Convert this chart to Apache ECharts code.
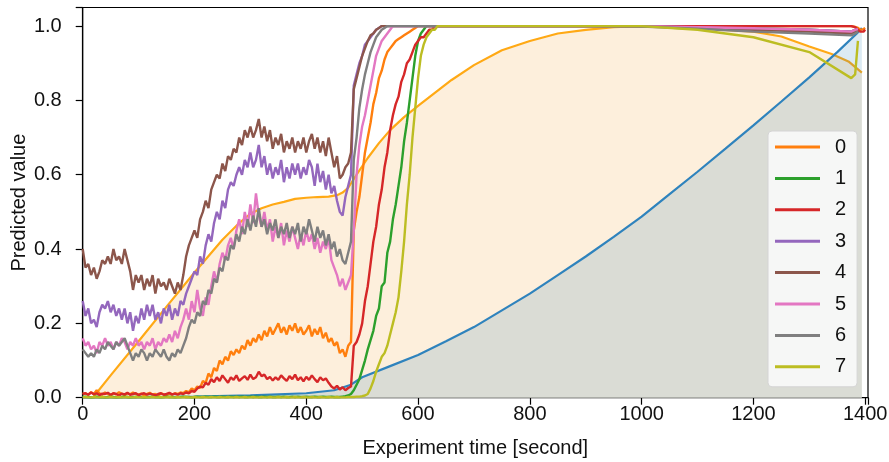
<!DOCTYPE html>
<html>
<head>
<meta charset="utf-8">
<script src="https://cdn.jsdelivr.net/npm/echarts@6/dist/echarts.min.js"></script>
<style>html,body{margin:0;padding:0;background:#fff}#c{width:889px;height:462px}</style>
</head>
<body>
<div id="c"></div>
<script>
// sample times (seconds) for the noisy prediction series
const T = [0,5,10,15,20,25,30,35,40,45,50,55,60,65,70,75,80,85,90,95,
100,105,110,115,120,125,130,135,140,145,150,155,160,165,170,175,180,185,190,195,
200,205,210,215,220,225,230,235,240,245,250,255,260,265,270,275,280,285,290,295,
300,305,310,315,320,325,330,335,340,345,350,355,360,365,370,375,380,385,390,395,
400,405,410,415,420,425,430,435,440,445,450,455,460,465,470,475,480,485,490,495,
500,505,510,515,520,525,530,535,540,545,550,555,560,565,570,575,580,585,590,595,
600,605,610,615,620,625,630,635,640,645,650,655,660,
700,800,900,1000,1100,1200,1300,1375,1382,1387,1391,1394,1397,1400];

const S0 = [0.01,0.012,0.008,0.015,0.01,0.02,0.012,0.008,0.014,0.01,0.006,0.012,0.009,0.015,0.01,0.007,0.012,0.009,0.014,0.01,
0.008,0.011,0.006,0.01,0.013,0.008,0.01,0.006,0.012,0.009,0.007,0.011,0.008,0.012,0.01,0.014,
0.012,0.018,0.015,0.025,0.02,0.03,0.026,0.045,0.04,0.065,0.055,0.08,0.072,0.1,0.09,0.11,0.1,0.125,0.115,0.13,
0.12,0.14,0.13,0.155,0.14,0.16,0.15,0.17,0.155,0.18,0.165,0.19,0.17,0.185,0.2,0.175,0.19,0.17,0.195,0.18,
0.2,0.175,0.19,0.17,0.18,0.195,0.165,0.185,0.17,0.19,0.16,0.175,0.15,0.16,0.14,0.15,0.12,0.13,0.11,0.14,
0.15,0.45,0.5,0.54,0.6,0.66,0.7,0.74,0.79,0.82,0.86,0.88,0.91,0.93,0.94,0.95,0.96,0.965,0.97,0.975,
0.98,0.985,0.99,0.995,1,1,1,1,1,1,1,1,1,1,1,1,1,
1,1,1,1,1,1,1,1,0.998,0.995,0.99,0.99,0.992,0.995];

const S1 = [0.002,0.003,0.002,0.001,0.002,0.003,0.002,0.002,0.001,0.002,0.003,0.002,0.001,0.002,0.002,0.003,0.002,0.001,0.002,0.002,
0.003,0.002,0.001,0.002,0.002,0.003,0.002,0.002,0.001,0.002,0.003,0.002,0.002,0.001,0.002,0.002,
0.003,0.002,0.002,0.001,0.002,0.003,0.002,0.002,0.003,0.002,0.002,0.003,0.002,0.002,0.003,0.002,0.002,0.003,0.002,0.003,
0.002,0.003,0.002,0.002,0.003,0.002,0.003,0.002,0.002,0.003,0.002,0.003,0.002,0.002,0.003,0.002,0.003,0.002,0.002,0.003,
0.002,0.003,0.002,0.002,0.003,0.002,0.002,0.003,0.002,0.002,0.003,0.002,0.002,0.003,0.002,0.002,
0.002,0.003,0.004,0.006,0.01,0.02,0.035,0.05,0.075,0.1,0.13,0.155,0.18,0.22,0.24,0.3,0.31,0.39,0.42,0.48,
0.52,0.57,0.62,0.69,0.74,0.8,0.86,0.92,0.96,0.98,0.99,1,1,1,1,1,1,
1,1,1,1,1,1,1,1,0.998,0.994,0.99,0.985,0.99,0.993];

const S2 = [0.01,0.012,0.008,0.014,0.009,0.012,0.007,0.011,0.01,0.013,0.008,0.012,0.01,0.006,0.011,0.009,0.013,0.008,0.01,0.012,
0.007,0.01,0.012,0.008,0.011,0.009,0.006,0.01,0.012,0.008,0.01,0.013,0.009,0.011,0.008,0.012,
0.01,0.014,0.012,0.018,0.016,0.025,0.03,0.028,0.04,0.035,0.05,0.042,0.055,0.045,0.06,0.05,0.04,0.055,0.048,0.06,
0.045,0.052,0.058,0.048,0.062,0.05,0.055,0.07,0.058,0.062,0.05,0.056,0.046,0.055,0.048,0.06,0.052,0.045,0.058,0.05,
0.062,0.047,0.055,0.044,0.056,0.048,0.06,0.05,0.042,0.055,0.047,0.052,0.04,0.03,0.025,0.032,0.022,0.028,0.02,0.026,
0.03,0.14,0.15,0.17,0.2,0.26,0.3,0.36,0.42,0.46,0.52,0.56,0.62,0.66,0.72,0.76,0.79,0.81,0.85,0.87,
0.9,0.91,0.93,0.95,0.96,0.97,0.97,0.98,0.99,0.99,1,1,1,1,1,1,1,
1,1,1,1,1,1,1,1,0.997,0.99,0.985,0.98,0.985,0.99];

const S3 = [0.26,0.22,0.24,0.2,0.21,0.19,0.23,0.25,0.24,0.26,0.23,0.25,0.22,0.24,0.21,0.24,0.2,0.23,0.18,0.22,
0.2,0.24,0.21,0.25,0.22,0.25,0.21,0.23,0.2,0.24,0.22,0.25,0.21,0.24,0.22,0.26,
0.25,0.28,0.3,0.32,0.34,0.33,0.38,0.36,0.41,0.44,0.42,0.47,0.5,0.48,0.53,0.51,0.56,0.58,0.57,0.6,
0.62,0.6,0.64,0.62,0.66,0.62,0.64,0.68,0.62,0.65,0.6,0.63,0.59,0.62,0.6,0.64,0.58,0.62,0.59,0.63,
0.6,0.63,0.59,0.62,0.6,0.64,0.62,0.57,0.63,0.58,0.61,0.56,0.6,0.55,0.57,0.53,0.5,0.49,0.54,0.57,
0.6,0.84,0.87,0.9,0.92,0.95,0.96,0.97,0.98,0.99,0.995,1,1,1,1,1,1,1,1,1,
1,1,1,1,1,1,1,1,1,1,1,1,1,
1,1,1,1,1,1,1,1,0.996,0.992,0.99,0.985,0.99,0.99];

const S4 = [0.4,0.35,0.36,0.33,0.35,0.32,0.34,0.37,0.36,0.38,0.36,0.4,0.37,0.38,0.36,0.4,0.37,0.34,0.29,0.33,
0.31,0.33,0.29,0.32,0.3,0.33,0.28,0.32,0.3,0.31,0.29,0.32,0.3,0.28,0.31,0.29,
0.33,0.38,0.41,0.43,0.45,0.43,0.48,0.5,0.53,0.51,0.56,0.58,0.6,0.59,0.63,0.61,0.65,0.64,0.67,0.66,
0.7,0.68,0.72,0.7,0.73,0.7,0.72,0.75,0.7,0.73,0.69,0.72,0.67,0.7,0.68,0.71,0.66,0.69,0.67,0.7,
0.66,0.69,0.67,0.7,0.66,0.69,0.71,0.67,0.7,0.66,0.69,0.65,0.7,0.66,0.62,0.65,0.59,0.6,0.62,0.63,
0.66,0.83,0.86,0.89,0.92,0.94,0.96,0.975,0.98,0.99,0.995,1,1,1,1,1,1,1,1,1,
1,1,1,1,1,1,1,1,1,1,1,1,1,
1,1,1,1,1,1,1,1,0.995,0.99,0.985,0.98,0.985,0.99];

const S5 = [0.16,0.14,0.15,0.13,0.14,0.12,0.15,0.14,0.16,0.14,0.15,0.13,0.15,0.14,0.16,0.15,0.13,0.15,0.14,0.16,
0.14,0.15,0.13,0.15,0.14,0.16,0.13,0.15,0.14,0.16,0.15,0.17,0.15,0.18,0.16,0.19,
0.21,0.24,0.21,0.26,0.23,0.29,0.24,0.22,0.27,0.25,0.3,0.34,0.31,0.36,0.39,0.37,0.41,0.43,0.4,0.45,
0.48,0.44,0.5,0.46,0.52,0.47,0.55,0.49,0.46,0.5,0.45,0.48,0.42,0.46,0.43,0.47,0.41,0.45,0.42,0.46,
0.43,0.4,0.44,0.41,0.45,0.42,0.44,0.4,0.43,0.39,0.42,0.4,0.43,0.37,0.35,0.33,0.3,0.32,0.29,0.31,
0.33,0.45,0.6,0.68,0.73,0.76,0.8,0.84,0.88,0.92,0.94,0.96,0.97,0.98,0.99,1,1,1,1,1,
1,1,1,1,1,1,1,1,1,1,1,1,1,
1,1,1,1,1,1,1,1,0.997,0.994,0.99,0.985,0.99,0.992];

const S6 = [0.13,0.12,0.11,0.12,0.11,0.13,0.12,0.14,0.13,0.15,0.14,0.13,0.15,0.14,0.15,0.16,0.14,0.12,0.1,0.12,
0.11,0.13,0.12,0.1,0.12,0.11,0.13,0.12,0.11,0.13,0.11,0.1,0.12,0.11,0.13,0.12,
0.14,0.16,0.19,0.21,0.2,0.23,0.22,0.26,0.25,0.29,0.28,0.32,0.31,0.35,0.34,0.38,0.37,0.41,0.4,0.44,
0.42,0.46,0.44,0.48,0.45,0.49,0.46,0.51,0.46,0.48,0.44,0.47,0.45,0.48,0.43,0.46,0.44,0.47,0.43,0.46,
0.44,0.47,0.42,0.46,0.44,0.48,0.45,0.42,0.46,0.43,0.45,0.41,0.44,0.4,0.42,0.38,0.4,0.37,0.36,0.39,
0.42,0.64,0.7,0.78,0.83,0.87,0.9,0.93,0.95,0.97,0.98,0.99,0.995,1,1,1,1,1,1,1,
1,1,1,1,1,1,1,1,1,1,1,1,1,
1,1,1,1,1,1,1,0.999,0.993,0.985,0.98,0.975,0.98,0.985];

const S7 = [0.001,0.002,0.001,0.001,0.002,0.001,0.001,0.002,0.001,0.001,0.002,0.001,0.001,0.002,0.001,0.001,0.002,0.001,0.001,0.002,
0.001,0.001,0.002,0.001,0.001,0.002,0.001,0.001,0.002,0.001,0.001,0.002,0.001,0.001,0.002,0.001,
0.001,0.002,0.001,0.001,0.002,0.001,0.001,0.002,0.001,0.001,0.002,0.001,0.001,0.002,0.001,0.001,0.002,0.001,0.001,0.002,
0.001,0.001,0.002,0.001,0.001,0.002,0.001,0.001,0.002,0.001,0.001,0.002,0.001,0.001,0.002,0.001,0.001,0.002,0.001,0.001,
0.002,0.001,0.001,0.002,0.001,0.001,0.002,0.001,0.001,0.002,0.001,0.001,0.002,0.001,0.001,0.002,
0.001,0.001,0.001,0.002,0.002,0.002,0.003,0.003,0.004,0.006,0.01,0.025,0.045,0.07,0.09,0.11,0.12,0.14,0.17,0.2,
0.23,0.27,0.34,0.42,0.52,0.6,0.7,0.78,0.86,0.92,0.95,0.97,0.98,0.99,0.99,1,1,
1,1,1,1,1,1,1,1,0.99,0.97,0.93,0.86,0.87,0.96];

// smooth orange reference curve
const TC = [18,50,100,150,200,250,280,300,320,340,360,380,400,420,440,455,465,475,490,510,530,550,575,600,630,660,700,750,800,850,900,950,1000,1050,1100,1150,1200,1250,1300,1340,1370,1394];
const VC = [0,0.06,0.152,0.245,0.337,0.425,0.47,0.495,0.51,0.52,0.527,0.535,0.538,0.54,0.541,0.545,0.552,0.565,0.6,0.645,0.685,0.72,0.755,0.785,0.82,0.855,0.895,0.935,0.96,0.98,0.99,0.997,1.0,1.0,0.997,0.99,0.985,0.972,0.945,0.925,0.905,0.875];

// smooth blue reference curve
const TB = [0,100,200,300,400,450,480,500,550,600,650,700,750,800,850,900,950,1000,1050,1100,1150,1200,1250,1300,1350,1385,1394];
const VB = [0,0.001,0.003,0.006,0.012,0.02,0.035,0.055,0.085,0.115,0.152,0.19,0.235,0.28,0.33,0.38,0.433,0.487,0.548,0.608,0.67,0.733,0.797,0.862,0.93,0.98,0.995];

const NAMES = ['0','1','2','3','4','5','6','7'];
const COLORS = ['#ff7f0e','#2ca02c','#d62728','#9467bd','#8c564b','#e377c2','#7f7f7f','#bcbd22'];
const SERIES = [S0,S1,S2,S3,S4,S5,S6,S7];

const FONT = "'Liberation Sans',Arial,sans-serif";
const pairs = (xs, ys) => xs.map((x, i) => [x, ys[i]]);

const series = [
  { type:'line', data: pairs(TC, VC), symbol:'none', silent:true, z:1,
    lineStyle:{ color:'#ffa915', width:2.2 },
    areaStyle:{ color:'#fdefdc', opacity:1 } },
  { type:'line', data: pairs(TB, VB), symbol:'none', silent:true, z:2,
    lineStyle:{ color:'#2f83bd', width:2.2 },
    areaStyle:{ color:'rgba(31,119,180,0.155)', opacity:1 } }
];
SERIES.forEach((s, k) => {
  series.push({ type:'line', name: NAMES[k], data: pairs(T, s), symbol:'none', silent:true, z:3,
    color: COLORS[k], lineStyle:{ color: COLORS[k], width:2.4 } });
});

const chart = echarts.init(document.getElementById('c'), null, { renderer:'canvas' });
chart.setOption({
  animation:false,
  backgroundColor:'#fff',
  grid:{ left:82.7, right:21, top:7.5, bottom:64.3, containLabel:false, outerBoundsMode:'none',
    show:true, borderColor:'#000', borderWidth:1.2, backgroundColor:'transparent' },
  xAxis:{ type:'value', min:0, max:1405, interval:200,
    name:'Experiment time [second]', nameLocation:'middle', nameGap:41, nameMoveOverlap:false,
    nameTextStyle:{ fontFamily:FONT, fontSize:20, color:'#111' },
    axisLine:{ show:true, lineStyle:{ color:'#000', width:1.2 } },
    axisTick:{ show:true, length:7, lineStyle:{ color:'#000', width:1.2 } },
    axisLabel:{ fontFamily:FONT, fontSize:20, color:'#111', margin:7,
      formatter: v => (v % 200 === 0 ? String(v) : '') },
    splitLine:{ show:false } },
  yAxis:{ type:'value', min:0, max:1.05, interval:0.2,
    name:'Predicted value', nameLocation:'middle', nameGap:53, nameMoveOverlap:false,
    nameTextStyle:{ fontFamily:FONT, fontSize:20, color:'#111' },
    axisLine:{ show:true, lineStyle:{ color:'#000', width:1.2 } },
    axisTick:{ show:true, length:7, lineStyle:{ color:'#000', width:1.2 } },
    axisLabel:{ fontFamily:FONT, fontSize:20, color:'#111', margin:21,
      formatter: v => (Math.abs(v*5 - Math.round(v*5)) < 1e-6 ? v.toFixed(1) : '') },
    splitLine:{ show:false } },
  legend:{ data:NAMES, orient:'vertical', left:768, top:131,
    icon:'rect', itemWidth:45, itemHeight:3, itemGap:9.4,
    padding:[5,11,9,7],
    backgroundColor:'rgba(248,248,248,0.92)', borderColor:'#d4d4d4', borderWidth:1, borderRadius:4,
    textStyle:{ fontFamily:FONT, fontSize:20, color:'#111', lineHeight:22, padding:[0,0,0,10] } },
  series
});
</script>
</body>
</html>
